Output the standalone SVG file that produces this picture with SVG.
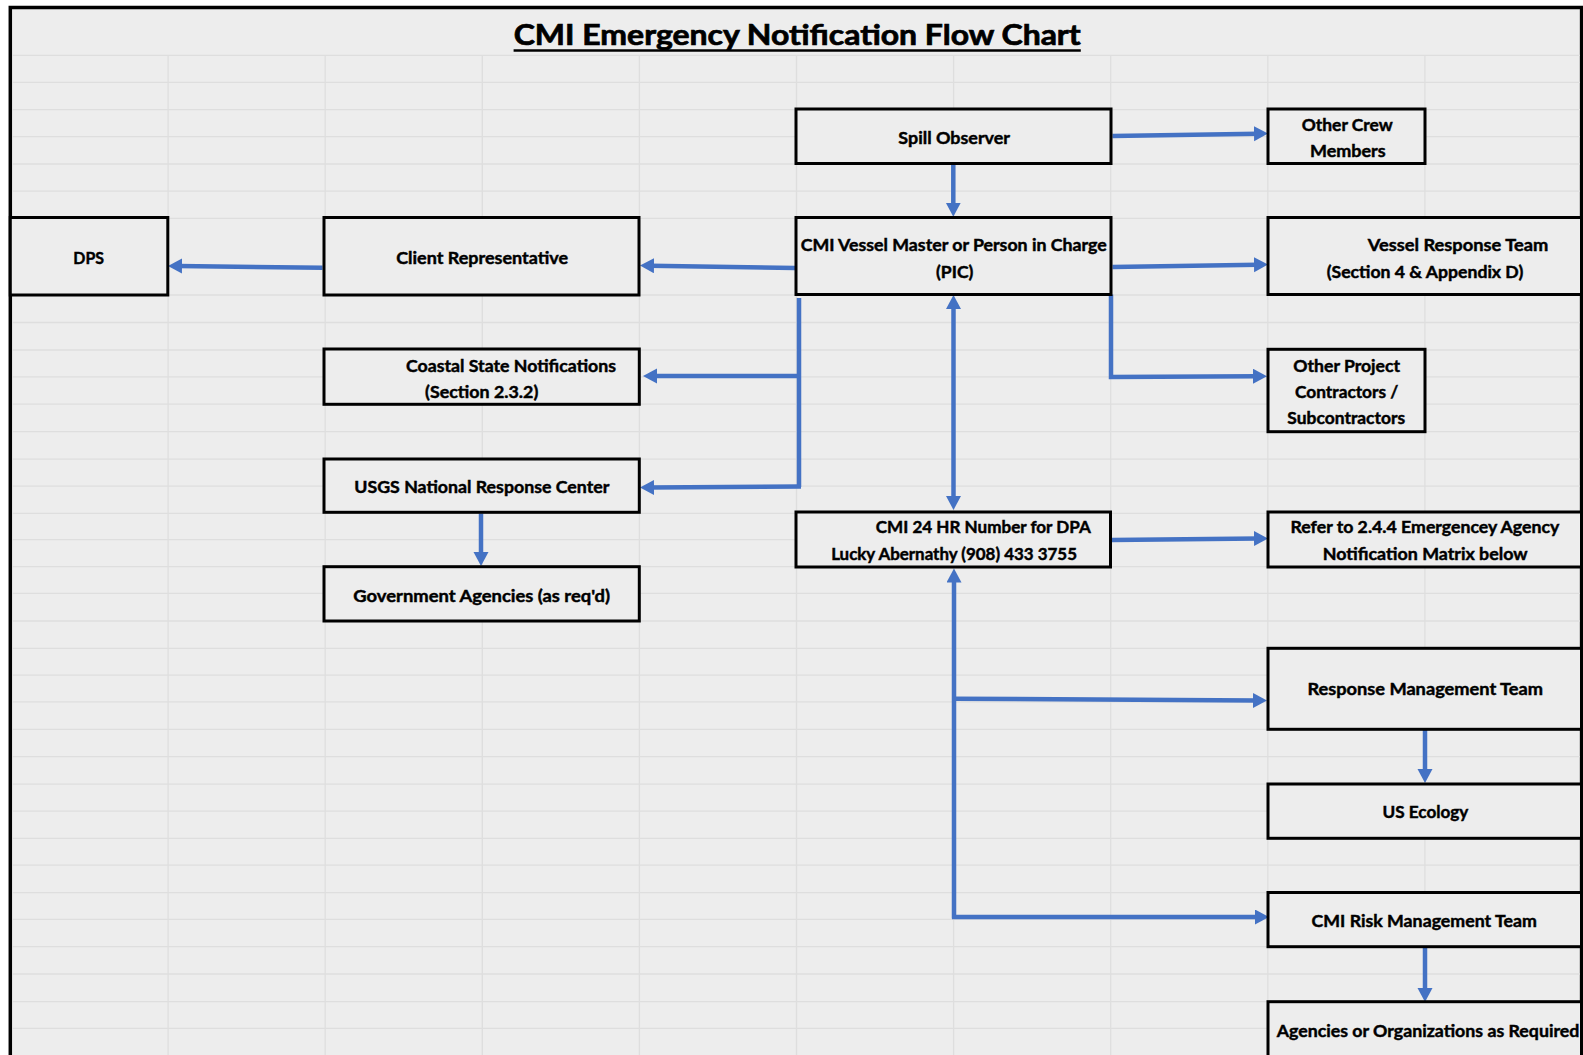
<svg xmlns="http://www.w3.org/2000/svg" width="1583" height="1055" viewBox="0 0 1583 1055">
<defs>
<style>
.bg{fill:#ffffff}
.frame{fill:#ededed;stroke:#000;stroke-width:3.5}
.grid line{stroke:#dedede;stroke-width:1.3}
.box{fill:#ededed;stroke:#000;stroke-width:3}
.t{font-family:"Lato","Open Sans","Liberation Sans",sans-serif;font-weight:bold;font-size:17px;fill:#000;stroke:#000;stroke-width:0.45;text-anchor:middle}
.title{font-family:"Lato","Open Sans","Liberation Sans",sans-serif;font-weight:bold;font-size:28px;fill:#000;stroke:#000;stroke-width:0.7;text-anchor:middle}
.c{fill:none;stroke:#4472C4;stroke-width:4.5;stroke-linejoin:miter;marker-end:url(#ah)}
.c2{fill:none;stroke:#4472C4;stroke-width:4.5;marker-start:url(#ahs);marker-end:url(#ah)}
.nm{fill:none;stroke:#4472C4;stroke-width:4.5}
</style>
<marker id="ah" markerUnits="userSpaceOnUse" markerWidth="16" markerHeight="16" refX="4" refY="7.5" orient="auto">
<path d="M0,0 L14,7.5 L0,15 z" fill="#4472C4"/>
</marker>
<marker id="ahs" markerUnits="userSpaceOnUse" markerWidth="16" markerHeight="16" refX="4" refY="7.5" orient="auto-start-reverse">
<path d="M0,0 L14,7.5 L0,15 z" fill="#4472C4"/>
</marker>
</defs>
<rect class="bg" x="0" y="0" width="1583" height="1055"/>
<rect class="frame" x="10.3" y="7.5" width="1571.3" height="1060"/>
<g class="grid">
<line x1="168.1" y1="55" x2="168.1" y2="1055"/>
<line x1="325.2" y1="55" x2="325.2" y2="1055"/>
<line x1="482.3" y1="55" x2="482.3" y2="1055"/>
<line x1="639.4" y1="55" x2="639.4" y2="1055"/>
<line x1="796.5" y1="55" x2="796.5" y2="1055"/>
<line x1="953.6" y1="55" x2="953.6" y2="1055"/>
<line x1="1110.7" y1="55" x2="1110.7" y2="1055"/>
<line x1="1267.8" y1="55" x2="1267.8" y2="1055"/>
<line x1="1424.9" y1="55" x2="1424.9" y2="1055"/>
<line x1="12" y1="55.3" x2="1580" y2="55.3"/>
<line x1="12" y1="82.3" x2="1580" y2="82.3"/>
<line x1="12" y1="109.6" x2="1580" y2="109.6"/>
<line x1="12" y1="136.6" x2="1580" y2="136.6"/>
<line x1="12" y1="164" x2="1580" y2="164"/>
<line x1="12" y1="191.2" x2="1580" y2="191.2"/>
<line x1="12" y1="218.3" x2="1580" y2="218.3"/>
<line x1="12" y1="295" x2="1580" y2="295"/>
<line x1="12" y1="322.5" x2="1580" y2="322.5"/>
<line x1="12" y1="350" x2="1580" y2="350"/>
<line x1="12" y1="376.9" x2="1580" y2="376.9"/>
<line x1="12" y1="404.2" x2="1580" y2="404.2"/>
<line x1="12" y1="431.6" x2="1580" y2="431.6"/>
<line x1="12" y1="459.2" x2="1580" y2="459.2"/>
<line x1="12" y1="486.2" x2="1580" y2="486.2"/>
<line x1="12" y1="513.3" x2="1580" y2="513.3"/>
<line x1="12" y1="539.6" x2="1580" y2="539.6"/>
<line x1="12" y1="566.7" x2="1580" y2="566.7"/>
<line x1="12" y1="593.4" x2="1580" y2="593.4"/>
<line x1="12" y1="621" x2="1580" y2="621"/>
<line x1="12" y1="648.3" x2="1580" y2="648.3"/>
<line x1="12" y1="675.2" x2="1580" y2="675.2"/>
<line x1="12" y1="701.8" x2="1580" y2="701.8"/>
<line x1="12" y1="729.3" x2="1580" y2="729.3"/>
<line x1="12" y1="756.7" x2="1580" y2="756.7"/>
<line x1="12" y1="784.2" x2="1580" y2="784.2"/>
<line x1="12" y1="811.1" x2="1580" y2="811.1"/>
<line x1="12" y1="838.4" x2="1580" y2="838.4"/>
<line x1="12" y1="865.1" x2="1580" y2="865.1"/>
<line x1="12" y1="892.6" x2="1580" y2="892.6"/>
<line x1="12" y1="919.4" x2="1580" y2="919.4"/>
<line x1="12" y1="946.7" x2="1580" y2="946.7"/>
<line x1="12" y1="974" x2="1580" y2="974"/>
<line x1="12" y1="1001.7" x2="1580" y2="1001.7"/>
<line x1="12" y1="1028.4" x2="1580" y2="1028.4"/>
</g>
<g id="title">
<text class="title" x="797.2" y="45" textLength="567" lengthAdjust="spacingAndGlyphs">CMI Emergency Notification Flow Chart</text>
<line x1="513.6" y1="50.5" x2="1080.8" y2="50.5" stroke="#000" stroke-width="2.4"/>
</g>
<g id="connectors">
<path class="c" d="M953.3,164.5 L953.3,206.7"/>
<path class="c" d="M1112.5,136 L1258,133.7"/>
<path class="c" d="M1112.5,267 L1258,264.7"/>
<path class="c" d="M1111,294.5 L1111,377 L1257,376.2"/>
<path class="c" d="M795,268 L650,265.7"/>
<path class="c" d="M322.5,267.7 L178,266"/>
<path class="nm" d="M799,298 L799,487"/>
<path class="c" d="M801,376 L653,376"/>
<path class="c" d="M801,486.5 L650,487.5"/>
<path class="c" d="M481,513.5 L481,556"/>
<path class="c2" d="M953.5,305 L953.5,500"/>
<path class="c" d="M1112,540 L1258,538.5"/>
<path class="c" d="M954,918.5 L954,578.5"/>
<path class="c" d="M954,698.7 L1257,700.5"/>
<path class="c" d="M952,917 L1259,917"/>
<path class="c" d="M1425,729.5 L1425,773"/>
<path class="c" d="M1425,947.5 L1425,992"/>
</g>
<g id="dps">
<rect class="box" x="10.3" y="217.5" width="157.5" height="77.5"/>
<text class="t" x="88.7" y="264.3" textLength="30.7" lengthAdjust="spacingAndGlyphs">DPS</text>
</g>
<g id="client-rep">
<rect class="box" x="324" y="217.5" width="315" height="77.5"/>
<text class="t" x="482.2" y="264.3" textLength="172" lengthAdjust="spacingAndGlyphs">Client Representative</text>
</g>
<g id="spill-observer">
<rect class="box" x="796" y="109" width="315" height="54.5"/>
<text class="t" x="954.2" y="144" textLength="111.7" lengthAdjust="spacingAndGlyphs">Spill Observer</text>
</g>
<g id="vessel-master">
<rect class="box" x="796" y="217.5" width="315" height="77"/>
<text class="t" x="953.7" y="251" textLength="306" lengthAdjust="spacingAndGlyphs">CMI Vessel Master or Person in Charge</text>
<text class="t" x="954.7" y="278.3" textLength="37.3" lengthAdjust="spacingAndGlyphs">(PIC)</text>
</g>
<g id="other-crew">
<rect class="box" x="1268" y="109" width="157" height="54.5"/>
<text class="t" x="1347.2" y="130.7" textLength="91" lengthAdjust="spacingAndGlyphs">Other Crew</text>
<text class="t" x="1347.8" y="157.3" textLength="75.7" lengthAdjust="spacingAndGlyphs">Members</text>
</g>
<g id="vessel-response-team">
<rect class="box" x="1268" y="217.5" width="313.5" height="77"/>
<text class="t" x="1458" y="250.7" textLength="180.6" lengthAdjust="spacingAndGlyphs">Vessel Response Team</text>
<text class="t" x="1425" y="278.3" textLength="196.6" lengthAdjust="spacingAndGlyphs">(Section 4 &amp; Appendix D)</text>
</g>
<g id="other-project">
<rect class="box" x="1268" y="349.3" width="157" height="82.4"/>
<text class="t" x="1346.7" y="371.7" textLength="106.7" lengthAdjust="spacingAndGlyphs">Other Project</text>
<text class="t" x="1346.7" y="398.3" textLength="103.3" lengthAdjust="spacingAndGlyphs">Contractors /</text>
<text class="t" x="1346.2" y="424.3" textLength="117.7" lengthAdjust="spacingAndGlyphs">Subcontractors</text>
</g>
<g id="coastal-state">
<rect class="box" x="324" y="349" width="315.3" height="55.3"/>
<text class="t" x="511" y="371.7" textLength="210" lengthAdjust="spacingAndGlyphs">Coastal State Notifications</text>
<text class="t" x="481.7" y="398.3" textLength="113.3" lengthAdjust="spacingAndGlyphs">(Section 2.3.2)</text>
</g>
<g id="usgs-nrc">
<rect class="box" x="324" y="459" width="315.3" height="53.3"/>
<text class="t" x="481.8" y="493.3" textLength="255" lengthAdjust="spacingAndGlyphs">USGS National Response Center</text>
</g>
<g id="government-agencies">
<rect class="box" x="324" y="566.7" width="315.3" height="54.3"/>
<text class="t" x="481.7" y="601.7" textLength="256.7" lengthAdjust="spacingAndGlyphs">Government Agencies (as req'd)</text>
</g>
<g id="cmi-24hr">
<rect class="box" x="796" y="512" width="314.5" height="55"/>
<text class="t" x="983.3" y="533.3" textLength="215" lengthAdjust="spacingAndGlyphs">CMI 24 HR Number for DPA</text>
<text class="t" x="954.1" y="560" textLength="245.8" lengthAdjust="spacingAndGlyphs">Lucky Abernathy (908) 433 3755</text>
</g>
<g id="refer-matrix">
<rect class="box" x="1268" y="512" width="313.5" height="55"/>
<text class="t" x="1424.9" y="533.3" textLength="268.8" lengthAdjust="spacingAndGlyphs">Refer to 2.4.4 Emergencey Agency</text>
<text class="t" x="1425.2" y="560" textLength="204.8" lengthAdjust="spacingAndGlyphs">Notification Matrix below</text>
</g>
<g id="response-management-team">
<rect class="box" x="1268" y="648.3" width="313.5" height="81"/>
<text class="t" x="1425.2" y="695" textLength="235.6" lengthAdjust="spacingAndGlyphs">Response Management Team</text>
</g>
<g id="us-ecology">
<rect class="box" x="1268" y="784" width="313.5" height="54.3"/>
<text class="t" x="1425.5" y="818.3" textLength="85.8" lengthAdjust="spacingAndGlyphs">US Ecology</text>
</g>
<g id="cmi-risk-management">
<rect class="box" x="1268" y="892.5" width="313.5" height="54.2"/>
<text class="t" x="1424.2" y="926.7" textLength="225.2" lengthAdjust="spacingAndGlyphs">CMI Risk Management Team</text>
</g>
<g id="agencies-organizations">
<rect class="box" x="1268" y="1001.7" width="313.5" height="70"/>
<text class="t" x="1428" y="1036.7" textLength="302.7" lengthAdjust="spacingAndGlyphs">Agencies or Organizations as Required</text>
</g>
</svg>
